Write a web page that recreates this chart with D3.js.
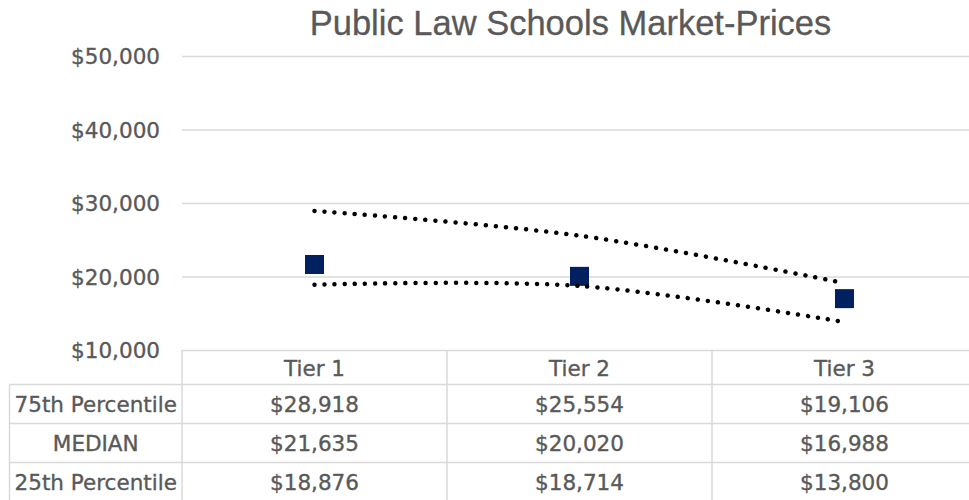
<!DOCTYPE html>
<html>
<head>
<meta charset="utf-8">
<style>
    body { margin: 0; background: #fff; }
    svg text { fill: #595959; }
    .lbl { font-family: "DejaVu Sans", sans-serif; font-size: 21.5px; stroke: #595959; stroke-width: 0.35px; }
</style>
</head>
<body>
<script src="https://cdn.jsdelivr.net/npm/d3@7/dist/d3.min.js"></script>
<script>
    const width = 969;
    const height = 500;

    // data
    const tiers = ["Tier 1", "Tier 2", "Tier 3"];
    const p75 = [28918, 25554, 19106];
    const median = [21635, 20020, 16988];
    const p25 = [18876, 18714, 13800];
    const rowLabels = ["75th Percentile", "MEDIAN", "25th Percentile"];
    const yTicks = [10000, 20000, 30000, 40000, 50000];

    const rows = [p75, median, p25];

    const plotL = 182, plotR = 977, plotT = 56, plotB = 350;
    const labelLeft = 9.5;
    const headH = 34.5, rowH = 39;

    const fmt = d3.format("$,");

    const svg = d3.select("body").append("svg")
        .attr("width", width).attr("height", height);

    const x = d3.scaleBand().domain(tiers).range([plotL, plotR]);
    const y = d3.scaleLinear().domain([10000, 50000]).range([plotB, plotT]);

    // title
    svg.append("text")
        .attr("x", 570.5).attr("y", 35)
        .attr("text-anchor", "middle")
        .style("font-family", "'Liberation Sans', Arial, sans-serif")
        .style("font-size", "34.5px")
        .style("stroke", "#595959").style("stroke-width", "0.3px")
        .text("Public Law Schools Market-Prices");

    // gridlines + y labels
    const ax = svg.append("g")
        .attr("transform", `translate(${plotL},0)`)
        .call(d3.axisLeft(y).tickValues(yTicks).tickFormat(fmt)
            .tickSize(-(plotR - plotL)).tickPadding(22));
    ax.select(".domain").remove();
    ax.selectAll(".tick line").attr("stroke", "#d9d9d9").attr("stroke-width", 1.5);
    ax.selectAll(".tick text").attr("class", "lbl").attr("fill", "#595959")
        .attr("dy", "0.36em");

    // table grid
    const rowTop = i => plotB + headH + i * rowH;
    const g = svg.append("g").attr("stroke", "#d9d9d9").attr("stroke-width", 1.5);
    d3.range(rows.length + 1).forEach(i => {
        g.append("line").attr("x1", labelLeft).attr("x2", plotR)
            .attr("y1", rowTop(i)).attr("y2", rowTop(i));
    });
    g.append("line").attr("x1", labelLeft).attr("x2", labelLeft)
        .attr("y1", rowTop(0)).attr("y2", rowTop(rows.length));
    [plotL].concat(tiers.map(t => x(t) + x.bandwidth())).forEach(xx => {
        g.append("line").attr("x1", xx).attr("x2", xx)
            .attr("y1", plotB).attr("y2", rowTop(rows.length));
    });

    // header
    svg.selectAll(".head").data(tiers).enter().append("text")
        .attr("class", "lbl")
        .attr("x", d => x(d) + x.bandwidth() / 2)
        .attr("y", plotB + headH / 2 + 9)
        .attr("text-anchor", "middle")
        .text(d => d);

    // row labels and values
    rows.forEach((r, i) => {
        const cy = rowTop(i) + rowH / 2 + 8;
        svg.append("text").attr("class", "lbl")
            .attr("x", (labelLeft + plotL) / 2).attr("y", cy)
            .attr("text-anchor", "middle")
            .text(rowLabels[i]);
        svg.selectAll(null).data(r).enter().append("text")
            .attr("class", "lbl")
            .attr("x", (d, j) => x(tiers[j]) + x.bandwidth() / 2)
            .attr("y", cy)
            .attr("text-anchor", "middle")
            .text(d => fmt(d));
    });

    // series
    const line = d3.line()
        .x((d, i) => x(tiers[i]) + x.bandwidth() / 2)
        .y(d => y(d))
        .curve(d3.curveCardinal.tension(0));

    svg.append("path").datum(p75)
        .attr("d", line)
        .attr("fill", "none").attr("stroke", "#000")
        .attr("stroke-width", 4.5).attr("stroke-linecap", "round")
        .attr("stroke-dasharray", "0.01 10.1");

    const sq = 19;
    svg.selectAll(".med").data(median).enter().append("rect")
        .attr("x", (d, i) => x(tiers[i]) + x.bandwidth() / 2 - sq / 2)
        .attr("y", d => y(d) - sq / 2)
        .attr("width", sq).attr("height", sq)
        .attr("fill", "#002060");

    svg.append("path").datum(p25)
        .attr("d", line)
        .attr("fill", "none").attr("stroke", "#000")
        .attr("stroke-width", 4.5).attr("stroke-linecap", "round")
        .attr("stroke-dasharray", "0.01 10.1");
</script>
</body>
</html>
